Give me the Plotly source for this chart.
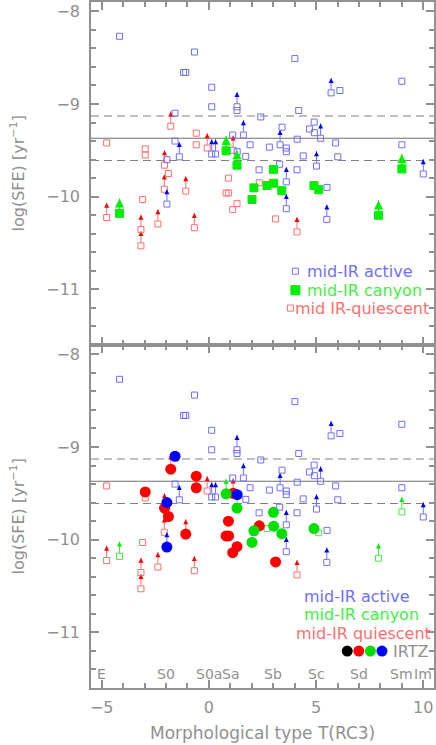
import plotly.graph_objects as go

# morphological type T, log(SFE), lower-limit flag, IRTZ class ('' = none)
act_t = [-4.17, -0.67, -1.18, -1.08, 0.13, 0.13, 1.31, 1.31, -1.58, 2.42,
         1.11, 1.61, 4.01, 9.0, 5.70, 6.11, 4.19, 3.41, 4.91, 4.69,
         4.92, 5.21, 4.12, 3.32, 2.82, 3.61, 3.61, 5.91, 9.0, 4.40,
         5.02, 6.01, 3.30, 4.11, 3.61, 10.0, 2.34, 5.51, 3.61, 5.50,
         1.92, 1.72, 1.32, -1.58, -1.38, 0.13, 0.31, -1.96, -1.96]
act_sfe = [-8.27, -8.44, -8.66, -8.66, -8.82, -9.03, -9.03, -9.07, -9.10, -9.14,
           -9.335, -9.335, -8.51, -8.755, -8.88, -8.855, -9.07, -9.25, -9.195, -9.27,
           -9.31, -9.37, -9.38, -9.44, -9.465, -9.475, -9.515, -9.42, -9.44, -9.56,
           -9.67, -9.57, -9.65, -9.71, -9.84, -9.755, -9.71, -9.90, -10.13, -10.245,
           -9.44, -9.565, -9.515, -9.40, -9.57, -9.54, -9.54, -9.60, -10.08]
act_lim = [0, 0, 0, 0, 0, 0, 1, 0, 0, 0,
           0, 1, 0, 0, 1, 0, 0, 0, 0, 0,
           0, 1, 0, 1, 0, 0, 0, 0, 0, 0,
           1, 0, 0, 0, 1, 1, 0, 0, 1, 1,
           0, 0, 0, 0, 1, 1, 1, 0, 1]
act_irtz = ['', '', '', '', '', '', '', '', 'b', '',
            '', '', '', '', '', '', '', '', '', '',
            '', '', '', '', '', '', '', '', '', '',
            '', '', '', '', '', '', '', '', '', '',
            '', '', 'b', '', '', '', '', 'b', 'b']

can_t = [0.80, 1.31, 3.01, 2.71, 3.02, 3.40, 4.90, 5.12, 2.10, 2.01, -4.17, 7.91, 9.0]
can_sfe = [-9.505, -9.66, -9.705, -9.88, -9.855, -9.935, -9.88, -9.925, -9.905, -10.03,
           -10.18, -10.20, -9.70]
can_lim = [1, 1, 0, 0, 0, 0, 0, 0, 0, 0, 1, 1, 1]
can_irtz = ['g', 'g', 'g', '', 'g', 'g', 'g', '', 'g', 'g', '', '', '']

qui_t = [-4.77, -2.97, -2.97, -1.78, -0.59, -0.59, -0.08, -2.07, -1.89, -2.08,
         -1.08, 1.13, 0.91, 0.80, 0.92, 1.31, 1.11, 2.35, 3.11, 4.11,
         -3.09, -4.77, -3.17, -3.17, -2.38, -0.68]
qui_sfe = [-9.42, -9.485, -9.55, -9.24, -9.315, -9.44, -9.475, -9.66, -9.75, -9.92,
           -9.94, -9.50, -9.80, -9.96, -9.96, -10.075, -10.14, -9.85, -10.24, -10.38,
           -10.03, -10.225, -10.355, -10.53, -10.295, -10.335]
qui_lim = [0, 0, 0, 1, 0, 0, 1, 1, 0, 1,
           1, 1, 0, 0, 0, 0, 0, 0, 0, 1,
           0, 1, 1, 1, 1, 1]
qui_irtz = ['', 'r', '', 'r', 'r', 'r', '', 'r', 'r', '',
            'r', 'r', 'r', 'r', 'r', 'r', 'r', 'r', 'r', '',
            '', '', '', '', '', '']

sfe_mean = -9.37
sfe_sd = 0.24

morph_t = [-5, -2, 0, 1, 3, 5, 7, 9, 10]
morph_lbl = ["E", "S0", "S0a", "Sa", "Sb", "Sc", "Sd", "Sm", "Im"]

BLUE, BLUE_D = "#6f6fff", "#0000ff"
GREEN, GREEN_D = "#44ee44", "#00ee00"
RED, RED_D = "#ff6f6f", "#ff0000"
GRAY = "#909090"
FONT = "DejaVu Sans"
irtz_col = {"k": "#000000", "r": "#ff0000", "g": "#00e000", "b": "#0000ff"}
ARR = 0.16

fig = go.Figure()


def arrows(t, s, lim):
    xs, ys, tx, ty = [], [], [], []
    for a, b, l in zip(t, s, lim):
        if l:
            xs += [a, a, None]
            ys += [b + 0.035, b + ARR, None]
            tx.append(a)
            ty.append(b + ARR)
    return xs, ys, tx, ty


def add_group(t, s, lim, col, dark, xa, ya, symbol, size, head=5):
    xs, ys, tx, ty = arrows(t, s, lim)
    fig.add_trace(go.Scatter(x=xs, y=ys, mode="lines", line=dict(color=col, width=1),
                             xaxis=xa, yaxis=ya, showlegend=False, hoverinfo="skip"))
    fig.add_trace(go.Scatter(x=tx, y=ty, mode="markers", xaxis=xa, yaxis=ya,
                             marker=dict(symbol="arrow-up", size=head, color=dark, line=dict(width=0)),
                             showlegend=False, hoverinfo="skip"))
    fig.add_trace(go.Scatter(x=t, y=s, mode="markers", xaxis=xa, yaxis=ya,
                             marker=dict(symbol=symbol, size=size, color=col, line=dict(color=col, width=1)),
                             showlegend=False))


# top panel
add_group(qui_t, qui_sfe, qui_lim, RED, RED_D, "x2", "y2", "square-open", 6)
add_group(act_t, act_sfe, act_lim, BLUE, BLUE_D, "x2", "y2", "square-open", 6)
add_group(can_t, can_sfe, can_lim, GREEN_D, GREEN_D, "x2", "y2", "square", 8, head=9)

# bottom panel
add_group(qui_t, qui_sfe, qui_lim, RED, RED_D, "x", "y", "square-open", 6)
add_group(act_t, act_sfe, act_lim, BLUE, BLUE_D, "x", "y", "square-open", 6)
add_group(can_t, can_sfe, can_lim, GREEN, GREEN_D, "x", "y", "square-open", 6)

all_t = act_t + can_t + qui_t
all_s = act_sfe + can_sfe + qui_sfe
all_c = act_irtz + can_irtz + qui_irtz
for k in ["k", "r", "g", "b"]:
    xs = [a for a, c in zip(all_t, all_c) if c == k]
    ys = [b for b, c in zip(all_s, all_c) if c == k]
    if not xs:
        continue
    fig.add_trace(go.Scatter(x=xs, y=ys, mode="markers", xaxis="x", yaxis="y",
                             marker=dict(size=11, color=irtz_col[k], line=dict(width=0)),
                             showlegend=False))

# mean and +-1 sigma lines
shapes = []
for ya in ["y", "y2"]:
    xr = "x domain" if ya == "y" else "x2 domain"
    shapes.append(dict(type="line", xref=xr, yref=ya, x0=0, x1=1, y0=sfe_mean, y1=sfe_mean,
                       line=dict(color="#707070", width=1.2), layer="below"))
    for d in [-sfe_sd, sfe_sd]:
        shapes.append(dict(type="line", xref=xr, yref=ya, x0=0, x1=1, y0=sfe_mean + d, y1=sfe_mean + d,
                           line=dict(color="#808080", width=1.2, dash="8px,5px"), layer="below"))


def px(x):
    return (x - 91) / 344.0


def py(y):
    return (688 - y) / 688.0


def box(x, y, col, half, filled, circle=False):
    return dict(type="circle" if circle else "rect", xref="paper", yref="paper",
                xsizemode="pixel", ysizemode="pixel", xanchor=px(x), yanchor=py(y),
                x0=-half, x1=half, y0=-half, y1=half,
                line=dict(color=col, width=1 if not circle else 0),
                fillcolor=col if filled else "rgba(0,0,0,0)")


anns = []


def text(x, y, s, col, size=16, anchor="left"):
    anns.append(dict(xref="paper", yref="paper", x=px(x), y=py(y), text=s, showarrow=False,
                     xanchor=anchor, yanchor="middle", font=dict(family=FONT, size=size, color=col)))


# top legend
shapes.append(box(296, 270, BLUE, 3, False))
text(306, 270, "mid-IR active", BLUE)
shapes.append(box(296, 289, GREEN_D, 4.5, True))
text(306, 289, "mid-IR canyon", GREEN)
shapes.append(box(291, 307, RED, 3, False))
text(294, 307, "mid IR-quiescent", RED)

# bottom legend
text(303, 596, "mid-IR active", BLUE)
text(303, 614, "mid-IR canyon", GREEN)
text(295, 633, "mid-IR quiescent", RED)
for i, k in enumerate(["k", "r", "g", "b"]):
    shapes.append(box(348 + i * 11.6, 651, irtz_col[k], 5.5, True, circle=True))
text(392, 651, "IRTZ", GRAY)

# morphological type labels
for t, lbl in zip(morph_t, morph_lbl):
    anns.append(dict(xref="x", yref="y", x=t, y=-11.45, text=lbl, showarrow=False,
                     font=dict(family=FONT, size=14, color=GRAY)))

# axis titles
for yc in [0.25, 0.75]:
    anns.append(dict(xref="paper", yref="paper", x=0, y=yc, xshift=-73, text="log(SFE) [yr<sup>−1</sup>]",
                     textangle=-90, showarrow=False, xanchor="center", yanchor="middle",
                     font=dict(family=FONT, size=16, color=GRAY)))
anns.append(dict(xref="paper", yref="paper", x=0.5, y=0, yshift=-45, text="Morphological type T(RC3)",
                 showarrow=False, xanchor="center", yanchor="middle",
                 font=dict(family=FONT, size=17, color=GRAY)))

axis_common = dict(showline=True, linecolor=GRAY, linewidth=1.5, mirror="allticks",
                   ticks="inside", ticklen=8, tickwidth=1.5, tickcolor=GRAY,
                   showgrid=False, zeroline=False,
                   tickfont=dict(family=FONT, size=16, color=GRAY))
xcommon = dict(axis_common, range=[-5.5, 10.5], dtick=5, tick0=0,
               minor=dict(ticks="inside", ticklen=5, dtick=1, tickcolor=GRAY, tickwidth=1.5))
ycommon = dict(axis_common, range=[-11.6, -7.9], dtick=1, tick0=0, ticklabelstandoff=6,
               minor=dict(ticks="inside", ticklen=5, dtick=0.2, tickcolor=GRAY, tickwidth=1.5))

fig.update_layout(
    width=436, height=745,
    margin=dict(l=91, r=1, t=0, b=57),
    plot_bgcolor="white", paper_bgcolor="white",
    xaxis=dict(xcommon, anchor="y", ticklabelstandoff=4),
    xaxis2=dict(xcommon, anchor="y2", matches="x", showticklabels=False),
    yaxis=dict(ycommon, domain=[0, 0.5], anchor="x"),
    yaxis2=dict(ycommon, domain=[0.5, 1], anchor="x2"),
    shapes=shapes, annotations=anns,
    showlegend=False,
)

fig.write_html("out.html", config={"displayModeBar": False},
               post_script="document.body.style.margin='0';document.body.style.overflow='hidden';")
